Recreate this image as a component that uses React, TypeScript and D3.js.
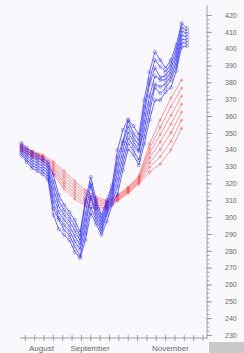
import React, { useEffect, useRef } from "react";
import * as d3 from "d3";

// daily-ish sample dates for the blue band (every 4 days)
const BLUE_DATES = [
  "2009-07-24", "2009-07-28", "2009-08-01", "2009-08-05", "2009-08-09", "2009-08-13",
  "2009-08-17", "2009-08-21", "2009-08-25", "2009-08-29", "2009-09-02", "2009-09-06",
  "2009-09-10", "2009-09-14", "2009-09-18", "2009-09-22", "2009-09-26", "2009-09-30",
  "2009-10-04", "2009-10-08", "2009-10-12", "2009-10-16", "2009-10-20", "2009-10-24",
  "2009-10-28", "2009-11-01", "2009-11-05", "2009-11-09", "2009-11-13", "2009-11-17",
  "2009-11-21", "2009-11-25",
];

const BLUE_SERIES = [
  [344.0, 341.1, 338.7, 336.9, 335.1, 332.7, 325.0, 313.1, 307.2, 303.0, 298.3, 291.1, 310.2, 323.8, 310.1, 301.2, 310.1, 319.0, 339.9, 351.7, 358.0, 354.0, 348.7, 369.6, 386.2, 398.1, 393.3, 388.5, 393.3, 402.2, 415.2, 412.2],
  [342.8, 339.7, 337.1, 335.3, 333.5, 330.9, 321.0, 309.7, 304.2, 300.2, 295.1, 288.5, 308.5, 320.2, 307.7, 299.2, 308.3, 317.0, 335.5, 345.0, 357.2, 349.7, 345.7, 365.2, 381.4, 393.3, 389.3, 386.1, 390.9, 399.6, 412.8, 410.4],
  [341.6, 338.3, 335.5, 333.7, 331.9, 329.2, 317.1, 306.4, 301.3, 297.5, 292.0, 286.0, 302.3, 318.5, 305.4, 297.3, 306.6, 315.1, 331.2, 343.8, 353.9, 347.2, 342.8, 360.9, 379.0, 388.6, 383.0, 383.8, 388.6, 397.1, 410.5, 408.7],
  [340.4, 336.9, 333.9, 332.1, 330.3, 327.4, 313.1, 303.0, 298.3, 294.7, 288.8, 283.4, 298.3, 313.1, 303.0, 295.3, 304.8, 313.1, 326.8, 339.8, 350.5, 344.6, 339.8, 356.5, 371.9, 383.8, 381.4, 381.4, 386.2, 394.5, 408.1, 406.9],
  [339.2, 335.5, 332.3, 330.5, 328.7, 325.6, 309.1, 299.6, 295.3, 291.9, 285.6, 280.8, 294.3, 311.5, 300.6, 293.3, 303.0, 311.1, 322.4, 335.8, 347.1, 342.0, 339.0, 352.1, 367.1, 379.0, 377.4, 379.0, 383.8, 391.9, 405.7, 405.1],
  [338.0, 334.1, 330.7, 328.9, 327.1, 323.9, 305.2, 298.5, 292.4, 289.2, 282.5, 277.0, 290.4, 306.0, 298.3, 291.4, 301.3, 309.2, 318.1, 331.9, 343.8, 339.5, 333.9, 347.8, 362.4, 377.0, 373.5, 376.7, 381.5, 389.4, 403.4, 403.4],
  [336.8, 332.7, 329.1, 327.3, 325.5, 322.1, 301.2, 292.9, 289.4, 286.4, 279.3, 275.7, 286.4, 302.4, 295.9, 289.4, 297.5, 307.2, 313.7, 327.9, 340.4, 336.9, 330.9, 343.4, 357.6, 369.5, 369.5, 374.3, 377.0, 386.8, 401.0, 401.6],
];

// smoother red band (every 8 days)
const RED_DATES = [
  "2009-07-24", "2009-08-01", "2009-08-09", "2009-08-17", "2009-08-25", "2009-09-02",
  "2009-09-10", "2009-09-18", "2009-09-26", "2009-10-04", "2009-10-12", "2009-10-20",
  "2009-10-28", "2009-11-05", "2009-11-13", "2009-11-21",
];

const RED_SERIES = [
  [342.8, 339.3, 336.9, 332.8, 327.3, 321.4, 316.1, 312.0, 309.6, 313.1, 317.9, 324.4, 343.4, 357.7, 370.7, 381.4],
  [342.2, 338.7, 336.3, 331.6, 325.5, 319.6, 314.5, 310.8, 308.8, 312.5, 317.3, 323.6, 340.6, 353.3, 365.6, 376.6],
  [341.6, 338.1, 335.7, 330.4, 323.8, 317.9, 312.9, 309.6, 308.0, 311.9, 316.7, 322.8, 337.9, 349.0, 360.4, 371.9],
  [341.0, 337.5, 335.1, 329.2, 322.0, 316.1, 311.3, 308.4, 307.2, 311.3, 316.1, 322.0, 335.1, 344.6, 355.3, 367.1],
  [340.4, 336.9, 334.5, 328.0, 320.2, 314.3, 309.7, 307.2, 306.4, 310.7, 315.5, 321.2, 332.3, 340.2, 350.2, 362.3],
  [339.8, 336.3, 333.9, 326.8, 318.5, 312.6, 308.1, 306.0, 305.6, 310.1, 314.9, 320.4, 329.6, 335.9, 345.0, 357.6],
  [339.2, 335.7, 333.3, 325.6, 316.7, 310.8, 306.5, 304.8, 304.8, 309.5, 314.3, 319.6, 326.8, 331.5, 339.9, 352.8],
];

const Y_TICKS = [230, 240, 250, 260, 270, 280, 290, 300, 310, 320, 330, 340, 350, 360, 370, 380, 390, 400, 410, 420];
const MONTH_LABELS = [
  { date: "2009-08-01", label: "August" },
  { date: "2009-09-01", label: "September" },
  { date: "2009-11-01", label: "November" },
];

export default function App() {
  const svgRef = useRef<SVGSVGElement>(null);

  useEffect(() => {
    const W = 244, H = 353;
    const svg = d3.select(svgRef.current);
    svg.selectAll("*").remove();

    const parse = d3.utcParse("%Y-%m-%d");
    const x = d3.scaleUtc()
      .domain([parse("2009-07-23")!, parse("2009-12-10")!])
      .range([20, 207]);
    const y = d3.scaleLinear().domain([230, 420]).range([335, 15]);

    svg.append("rect").attr("width", W).attr("height", H).attr("fill", "#f9f8fc");

    const axisColor = "#8a8a8a";
    const labelColor = "#6a6a6a";

    // y axis on the right
    svg.append("line")
      .attr("x1", 207).attr("x2", 207).attr("y1", 5).attr("y2", 339)
      .attr("stroke", axisColor).attr("stroke-width", 0.8);

    svg.append("g")
      .attr("transform", "translate(207,0)")
      .call(d3.axisRight(y).tickValues(d3.range(230, 421, 2.5)).tickSize(2.5).tickFormat(() => ""))
      .call(g => g.select(".domain").remove())
      .call(g => g.selectAll(".tick line").attr("stroke", axisColor).attr("stroke-width", 0.7));

    svg.append("g")
      .attr("transform", "translate(207,0)")
      .call(d3.axisRight(y).tickValues(Y_TICKS).tickSize(5).tickPadding(13))
      .call(g => g.select(".domain").remove())
      .call(g => g.selectAll(".tick line").attr("stroke", axisColor).attr("stroke-width", 0.8))
      .call(g => g.selectAll(".tick text")
        .attr("fill", labelColor)
        .style("font-family", "'Liberation Sans', Arial, sans-serif")
        .style("font-size", "7px"));

    // x axis at the bottom
    svg.append("line")
      .attr("x1", 20).attr("x2", 207).attr("y1", 338).attr("y2", 338)
      .attr("stroke", axisColor).attr("stroke-width", 0.8);

    const weeks = d3.utcMonday.range(x.domain()[0], x.domain()[1]);
    svg.append("g")
      .selectAll("line")
      .data(weeks)
      .join("line")
      .attr("x1", d => x(d)).attr("x2", d => x(d))
      .attr("y1", 335).attr("y2", 341)
      .attr("stroke", axisColor).attr("stroke-width", 0.8);

    svg.append("g")
      .selectAll("text")
      .data(MONTH_LABELS)
      .join("text")
      .attr("x", d => x(parse(d.date)!) - 3)
      .attr("y", 351)
      .attr("fill", labelColor)
      .style("font-family", "'Liberation Sans', Arial, sans-serif")
      .style("font-size", "8px")
      .text(d => d.label);

    svg.append("rect")
      .attr("x", 209).attr("y", 342).attr("width", 35).attr("height", 11)
      .attr("fill", "#c9c9c9");

    // red band
    const redDates = RED_DATES.map(d => parse(d)!);
    const redLine = d3.line<number>().x((_, i) => x(redDates[i])).y(d => y(d));
    const red = svg.append("g");
    RED_SERIES.forEach(series => {
      red.append("path")
        .attr("d", redLine(series))
        .attr("fill", "none")
        .attr("stroke", "#ff2a2a")
        .attr("stroke-width", 0.6)
        .attr("opacity", 0.8);
      red.append("g").selectAll("circle")
        .data(series)
        .join("circle")
        .attr("cx", (_, i) => x(redDates[i]))
        .attr("cy", d => y(d))
        .attr("r", 1)
        .attr("fill", "none")
        .attr("stroke", "#ff4040")
        .attr("stroke-width", 0.5);
    });

    // blue band
    const blueDates = BLUE_DATES.map(d => parse(d)!);
    const blueLine = d3.line<number>().x((_, i) => x(blueDates[i])).y(d => y(d));
    const blue = svg.append("g");
    BLUE_SERIES.forEach(series => {
      blue.append("path")
        .attr("d", blueLine(series))
        .attr("fill", "none")
        .attr("stroke", "#1515ff")
        .attr("stroke-width", 0.7)
        .attr("opacity", 0.9);
      blue.append("g").selectAll("circle")
        .data(series)
        .join("circle")
        .attr("cx", (_, i) => x(blueDates[i]))
        .attr("cy", d => y(d))
        .attr("r", 1.6)
        .attr("fill", "none")
        .attr("stroke", "#2a2aff")
        .attr("stroke-width", 0.5)
        .attr("opacity", 0.8);
    });
  }, []);

  return (
    <svg
      ref={svgRef}
      width={244}
      height={353}
      style={{ position: "absolute", left: 0, top: 0, display: "block" }}
    />
  );
}
